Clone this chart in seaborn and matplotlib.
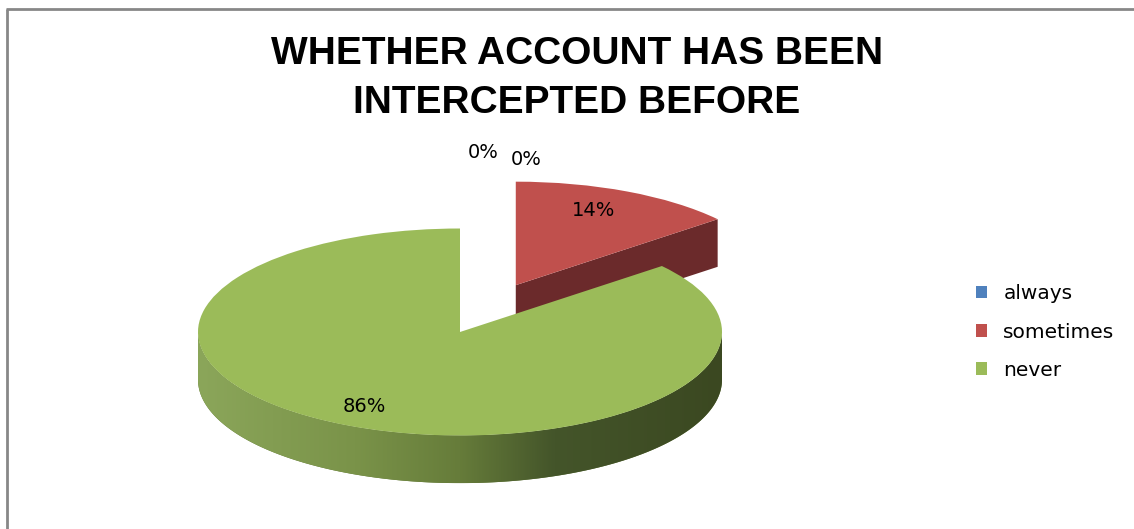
import numpy as np
import matplotlib
matplotlib.use("Agg")
import matplotlib.pyplot as plt
import seaborn as sns
from matplotlib.patches import Polygon
from matplotlib.colors import LinearSegmentedColormap
from matplotlib.lines import Line2D

# ---- data -------------------------------------------------------------
categories = ["always", "sometimes", "never", ""]
shares = [0, 14, 86, 0]
pulled_out = [0.0, 0.5, 0.0, 0.0]
title_lines = ["WHETHER ACCOUNT HAS BEEN", "INTERCEPTED BEFORE"]

# ---- style ------------------------------------------------------------
sns.set_theme(style="white")
plt.rcParams["font.family"] = ["DejaVu Sans"]
top_colors = ["#4f81bd", "#c0504d", "#9bbb59", "#8064a2"]
side_colors = ["#2c4a6e", "#6b2a2b", "#5f7534", "#4a3a60"]
green_side = LinearSegmentedColormap.from_list(
    "green_side",
    [(0.0, "#8ba65a"), (0.3, "#7a9349"), (0.5, "#667c3a"),
     (0.68, "#44552a"), (1.0, "#3b4821")])

W, H = 1134, 529
fig = plt.figure(figsize=(W / 100, H / 100), dpi=100)
fig.patch.set_facecolor("white")

# pie axes: one radius unit is 262 px across and 103.5 px tall (tilted disc)
cx, cy = 460, 332
rx, ry = 262, 103.5
depth = 0.46
px_l, px_r, px_t, px_b = 150, 790, 140, 510
ax = fig.add_axes([px_l / W, 1 - px_b / H, (px_r - px_l) / W, (px_b - px_t) / H])

wedges, _ = ax.pie(shares, colors=top_colors, startangle=90, counterclock=False,
                   explode=pulled_out, radius=1.0,
                   wedgeprops=dict(linewidth=0, antialiased=True))
ax.set_aspect("auto")
ax.axis("off")

for w in wedges:
    w.set_zorder(4)


def side_wall(wedge):
    """Outer curved wall of a wedge: the part of its rim facing the viewer."""
    x0, y0 = wedge.center
    t = np.radians(np.linspace(wedge.theta1, wedge.theta2, 600))
    keep = np.sin(t) <= 0
    if keep.sum() < 2:
        return None
    t = t[keep]
    top = np.column_stack([x0 + np.cos(t), y0 + np.sin(t)])
    bottom = top[::-1] - [0, depth]
    return np.vstack([top, bottom])


def radial_walls(wedge):
    """Cut faces of a wedge that face the viewer."""
    x0, y0 = wedge.center
    faces = []
    for ang, sign in ((wedge.theta1, 1), (wedge.theta2, -1)):
        a = np.radians(ang)
        if sign * np.cos(a) > 1e-6:
            p_out = (x0 + np.cos(a), y0 + np.sin(a))
            faces.append([(x0, y0), p_out, (p_out[0], p_out[1] - depth),
                          (x0, y0 - depth)])
    return faces


for i, w in enumerate(wedges):
    if shares[i] == 0:
        continue
    for face in radial_walls(w):
        ax.add_patch(Polygon(face, closed=True, facecolor=side_colors[i],
                             edgecolor="none", zorder=2))
    wall = side_wall(w)
    if wall is not None:
        patch = Polygon(wall, closed=True, facecolor=side_colors[i],
                        edgecolor="none", zorder=2)
        ax.add_patch(patch)
        if categories[i] == "never":
            grad = np.linspace(0, 1, 256).reshape(1, -1)
            im = ax.imshow(grad, cmap=green_side, aspect="auto",
                           extent=[w.center[0] - 1, w.center[0] + 1,
                                   w.center[1] - 1 - depth, w.center[1]],
                           zorder=3, interpolation="bilinear")
            im.set_clip_path(patch)

ax.set_aspect("auto")
ax.set_xlim((px_l - cx) / rx, (px_r - cx) / rx)
ax.set_ylim((cy - px_b) / ry, (cy - px_t) / ry)

# ---- percentage labels ------------------------------------------------
label_font = dict(fontsize=14, color="#000000", ha="center", va="center", zorder=6)
zero_offsets = [(17, 55), (48, 50)]
z = 0
for i, w in enumerate(wedges):
    text = f"{shares[i]:.0f}%"
    if shares[i] == 0:
        a = np.radians(w.theta1)
        anchor = (w.center[0] + np.cos(a), w.center[1] + np.sin(a))
        ax.annotate(text, xy=anchor, xytext=zero_offsets[z],
                    textcoords="offset points", **label_font)
        z += 1
        continue
    mid = np.radians((w.theta1 + w.theta2) / 2)
    pos = (w.center[0] + 0.78 * np.cos(mid) - 0.035,
           w.center[1] + 0.8 * np.sin(mid))
    ax.text(*pos, text, **label_font)

# ---- legend -----------------------------------------------------------
named = [(w, c) for w, c in zip(wedges, categories) if c]
leg = fig.legend([w for w, _ in named], [c for _, c in named],
                 loc="center left", bbox_to_anchor=(976 / W, 1 - 332 / H),
                 frameon=False, fontsize=14.5, labelcolor="black",
                 handlelength=0.56, handleheight=0.56, handletextpad=0.8,
                 labelspacing=0.95, borderaxespad=0, borderpad=0)

# ---- title ------------------------------------------------------------
title_font = dict(fontsize=28, fontweight="bold", ha="center", va="center",
                  family=["Liberation Sans", "DejaVu Sans"], color="black")
fig.text(577 / W, 1 - 54 / H, title_lines[0], **title_font)
fig.text(577 / W, 1 - 103 / H, title_lines[1], **title_font)

# ---- chart area border (left and top edges) ---------------------------
border = dict(color="#878787", linewidth=2.0, solid_capstyle="butt")
fig.add_artist(Line2D([7 / W, 7 / W], [1 - 9 / H, 0], transform=fig.transFigure, **border))
fig.add_artist(Line2D([6 / W, 1], [1 - 9 / H, 1 - 9 / H], transform=fig.transFigure, **border))

fig.savefig("out.png", dpi=100, facecolor="white")
